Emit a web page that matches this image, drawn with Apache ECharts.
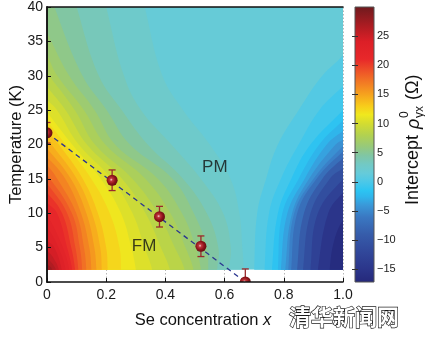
<!DOCTYPE html>
<html>
<head>
<meta charset="utf-8">
<script src="https://cdn.jsdelivr.net/npm/echarts@6/dist/echarts.min.js"></script>
<style>
  html, body { margin: 0; padding: 0; background: #fff; }
  #chart { width: 425px; height: 339px; }
</style>
</head>
<body>
<div id="chart"></div>
<script>
// ---- Intercept map, given as filled contours of rho0_yx (Ohm) over (x, T) ----
// value of the broad paramagnetic plateau
const fieldBaseValue = 1.6;
// lowest measured temperature of the map (K)
const fieldFloor = 1.8;

// regions with rho >= level, bounded by a curve running from the bottom edge to the left/top edge
const highLevels = [2, 3, 4, 5, 6, 7, 8, 9, 10, 11, 12, 13, 14, 15, 16, 17, 18, 19, 20, 21, 22, 23, 24, 25, 26, 27];
const highContours = [
  [[.665,0],[.665,1.8],[.66,5],[.65,10],[.62,15],[.55,20],[.46,25],[.39,30],[.33,40],[.32,42]],
  [[.615,0],[.615,1.8],[.621,5],[.595,10],[.52,15],[.42,20],[.318,25],[.26,30],[.2,40],[.19,42]],
  [[.575,0],[.575,1.8],[.579,5],[.54,10],[.46,15],[.34,20],[.253,25],[.175,30],[.1,40],[.09,42]],
  [[.545,0],[.545,1.8],[.54,5],[.496,10],[.425,15],[.28,20],[.202,25],[.12,30],[.025,40],[.015,42]],
  [[.52,0],[.52,1.8],[.503,5],[.456,10],[.375,15],[.23,20],[.161,25],[.075,30],[0,36.3],[-.02,38]],
  [[.495,0],[.495,1.8],[.468,5],[.417,10],[.333,15],[.197,20],[.125,25],[.035,30],[0,33],[-.02,34.5]],
  [[.465,0],[.465,1.8],[.432,5],[.375,10],[.289,15],[.162,20],[.094,25],[0,30.4],[-.02,31.5]],
  [[.415,0],[.415,1.8],[.385,5],[.333,10],[.254,15],[.135,20],[.063,25],[0,28.4],[-.02,29.5]],
  [[.355,0],[.355,1.8],[.33,5],[.289,10],[.218,15],[.107,20],[.034,25],[0,26.5],[-.02,27.5]],
  [[.3,0],[.3,1.8],[.285,5],[.25,10],[.182,15],[.085,20],[0,24.7],[-.02,25.7]],
  [[.25,0],[.25,1.8],[.245,5],[.212,10],[.15,15],[.063,20],[0,23.4],[-.02,24.3]],
  [[.205,0],[.205,1.8],[.2,5],[.172,10],[.121,15],[.04,20],[0,22],[-.02,22.8]],
  [[.185,0],[.185,1.8],[.18,5],[.152,10],[.101,15],[.015,20],[0,20.7],[-.02,21.4]],
  [[.167,0],[.167,1.8],[.16,5],[.133,10],[.081,15],[0,19.4],[-.02,20]],
  [[.15,0],[.15,1.8],[.143,5],[.115,10],[.062,15],[0,18.2],[-.02,18.8]],
  [[.133,0],[.133,1.8],[.125,5],[.099,10],[.035,15],[0,17],[-.02,17.5]],
  [[.119,0],[.119,1.8],[.111,5],[.084,10],[0,15.6],[-.02,16.2]],
  [[.106,0],[.106,1.8],[.096,5],[.068,10],[0,14.3],[-.02,14.9]],
  [[.095,0],[.095,1.8],[.082,5],[.051,10],[0,13],[-.02,13.6]],
  [[.085,0],[.085,1.8],[.068,5],[.034,10],[0,11.5],[-.02,12.1]],
  [[.075,0],[.075,1.8],[.054,5],[0,9.8],[-.02,10.5]],
  [[.063,0],[.063,1.8],[.039,5],[0,8],[-.02,8.7]],
  [[.05,0],[.05,1.8],[.025,5],[0,6],[-.02,6.6]],
  [[.04,0],[.04,1.8],[.02,3.6],[0,4.5],[-.02,5]],
  [[.03,0],[.03,1.8],[0,3.5],[-.02,4]],
  [[.018,0],[.018,1.8],[0,2.6],[-.02,3]]
];

// regions with rho <= level, bounded by a curve running from the bottom edge to the right edge
const lowLevels = [1, 0, -1, -2, -3, -4, -5, -6, -8, -10, -12, -14, -16];
const lowContours = [
  [[.7,0],[.7,1.8],[.71,10],[.74,15],[.78,20],[.85,25],[.93,30],[1,33],[1.02,34.5]],
  [[.735,0],[.735,1.8],[.75,10],[.79,15],[.85,20],[.92,25],[1,28.5],[1.02,29.5]],
  [[.76,0],[.76,1.8],[.78,10],[.825,15],[.89,20],[1,25],[1.02,25.8]],
  [[.78,0],[.78,1.8],[.795,10],[.85,15],[.92,20],[1,23.5],[1.02,24.2]],
  [[.79,0],[.79,1.8],[.812,10],[.87,15],[.945,20],[1,22],[1.02,22.7]],
  [[.805,0],[.805,1.8],[.828,10],[.885,15],[.975,20],[1,20.7],[1.02,21.2]],
  [[.815,0],[.815,1.8],[.835,10],[.9,15],[1,19.8],[1.02,20.2]],
  [[.825,0],[.825,1.8],[.845,10],[.91,15],[1,19],[1.02,19.4]],
  [[.845,0],[.845,1.8],[.868,10],[.93,15],[1,18],[1.02,18.4]],
  [[.865,0],[.865,1.8],[.89,10],[.955,15],[1,16.5],[1.02,16.8]],
  [[.89,0],[.89,1.8],[.915,10],[1,15],[1.02,15.3]],
  [[.915,0],[.915,1.8],[.95,10],[1,13],[1.02,13.3]],
  [[.955,0],[.955,1.8],[.97,6],[1,9],[1.02,9.3]]
];

// ---- Curie temperature Tc(x) with error bars ----
const tcConcentration = [0, 0.22, 0.38, 0.52, 0.67];
const tcTemperature = [21.7, 14.8, 9.5, 5.2, 0];
const tcError = [1.5, 1.5, 1.5, 1.5, 1.9];

// linear guide to the eye through Tc(x)
const guideConcentration = [0, 0.67];
const guideTemperature = [21.7, 0];

// phase labels
const phaseNames = ['PM', 'FM'];
const phaseConcentration = [0.567, 0.328];
const phaseTemperature = [16.7, 5.2];

// colour bar
const colorbarTicks = [-15, -10, -5, 0, 5, 10, 15, 20, 25];
const colorbarRange = [-17.2, 30];

// colour scale (value, colour)
const colorStops = [
  [-17.2, '#25287a'], [-15, '#2b358a'], [-12, '#31479a'], [-9, '#365caa'],
  [-6, '#3a78c2'], [-4, '#3a98d8'], [-2.5, '#2fb6ec'], [-1.5, '#2cc4f2'],
  [0, '#4cc8e8'], [1.5, '#66cbd9'], [3, '#72c9c4'], [4.5, '#80c6a4'],
  [6, '#96c97c'], [8, '#b2d150'], [10, '#d4dc30'], [11.5, '#f0e81e'],
  [13, '#f8cc1a'], [15, '#f6a21e'], [17, '#f27a24'], [19, '#ee5228'],
  [21, '#e8282a'], [24, '#dc1f27'], [26.5, '#b01c22'], [30, '#6e1a1e']
];

const FONT = '"Liberation Sans", Arial, Helvetica, sans-serif';
const [CB_MIN, CB_MAX] = colorbarRange;

function hexToRgb(h) {
  return [1, 3, 5].map(k => parseInt(h.slice(k, k + 2), 16));
}
function colorAt(v) {
  for (let k = 1; k < colorStops.length; k++) {
    const [v1, c1] = colorStops[k];
    const [v0, c0] = colorStops[k - 1];
    if (v <= v1 || k === colorStops.length - 1) {
      const t = Math.max(0, Math.min(1, (v - v0) / (v1 - v0)));
      const a = hexToRgb(c0), b = hexToRgb(c1);
      return 'rgb(' + a.map((x, n) => Math.round(x + (b[n] - x) * t)).join(',') + ')';
    }
  }
}
// evenly spaced palette for the continuous visualMap
const paletteSize = 95;
const palette = Array.from({ length: paletteSize }, (_, k) =>
  colorAt(CB_MIN + k * (CB_MAX - CB_MIN) / (paletteSize - 1)));

// each filled band is shown with the value midway between its two bounding levels
const fieldData = [[fieldBaseValue, 0, 0]];
highLevels.forEach((L, k) => {
  const band = k < highLevels.length - 1 ? (L + highLevels[k + 1]) / 2 : L + 0.5;
  fieldData.push([band, 1, k]);
});
lowLevels.forEach((L, k) => {
  const band = k < lowLevels.length - 1 ? (L + lowLevels[k + 1]) / 2 : L - 0.6;
  fieldData.push([band, -1, k]);
});

const tcData = tcConcentration.map((x, i) => [x, tcTemperature[i], tcError[i]]);
const guideData = guideConcentration.map((x, i) => [x, guideTemperature[i]]);
const phaseData = phaseNames.map((n, i) => [phaseConcentration[i], phaseTemperature[i], n]);

const ballFill = new echarts.graphic.RadialGradient(0.42, 0.45, 0.62, [
  { offset: 0, color: '#f4d6d6' },
  { offset: 0.22, color: '#c0363c' },
  { offset: 0.6, color: '#8e141a' },
  { offset: 1, color: '#5c0b0f' }
]);
const errColor = '#9a2a2c';

const plot = { left: 47, top: 7, width: 296, height: 275 };

const chart = echarts.init(document.getElementById('chart'), null, { renderer: 'canvas' });
const frameLine = { show: true, lineStyle: { color: '#111', width: 1.5 } };
const hiddenValueAxis = (grid, min, max) => ({ gridIndex: grid, type: 'value', min, max, show: false });

chart.setOption({
  animation: false,
  backgroundColor: '#fff',
  textStyle: { fontFamily: FONT },
  grid: [
    Object.assign({ outerBoundsMode: 'none', containLabel: false }, plot),
    { outerBoundsMode: 'none', containLabel: false, left: 355, top: 7, width: 19, height: 275 },
    // measured part of the map, above the lowest temperature
    { outerBoundsMode: 'none', containLabel: false, left: plot.left, top: plot.top, width: plot.width,
      height: plot.height * (40 - fieldFloor) / 40 }
  ],
  xAxis: [
    { // labels and dotted grid
      gridIndex: 0, type: 'value', min: 0, max: 1, interval: 0.2, position: 'bottom',
      axisLine: { show: false }, axisTick: { show: false },
      axisLabel: { margin: 6, fontSize: 14, color: '#1a1a1a', fontFamily: FONT,
        formatter: v => (v === 0 ? '0' : v.toFixed(1)) },
      splitLine: { show: true, lineStyle: { color: '#b8b8b8', type: [1.5, 2], width: 1 } },
      name: '{t|Se concentration }{i|x}', nameLocation: 'middle', nameGap: 30, nameMoveOverlap: false,
      nameTextStyle: { padding: [0, 0, 0, 16],
        rich: { t: { fontSize: 16.5, color: '#111', fontFamily: FONT },
                i: { fontSize: 16.5, color: '#111', fontStyle: 'italic', fontFamily: FONT } } }
    },
    { // bottom frame with inward ticks
      gridIndex: 0, type: 'value', min: 0, max: 1, interval: 0.2, position: 'bottom', z: 6,
      axisLine: frameLine, axisTick: { show: true, inside: true, length: 4, lineStyle: { color: '#111' } },
      axisLabel: { show: false }, splitLine: { show: false }
    },
    { // top frame
      gridIndex: 0, type: 'value', min: 0, max: 1, position: 'top', z: 6,
      axisLine: frameLine, axisTick: { show: false }, axisLabel: { show: false }, splitLine: { show: false }
    },
    hiddenValueAxis(1, 0, 1),
    hiddenValueAxis(2, 0, 1)
  ],
  yAxis: [
    {
      gridIndex: 0, type: 'value', min: 0, max: 40, interval: 5, position: 'left', z: 6,
      axisLine: frameLine,
      axisTick: { show: true, inside: true, length: 4, lineStyle: { color: '#111' } },
      axisLabel: { margin: 4, fontSize: 14, color: '#1a1a1a', fontFamily: FONT },
      splitLine: { show: false },
      name: 'Temperature (K)', nameLocation: 'middle', nameGap: 22, nameRotate: 90, nameMoveOverlap: false,
      nameTextStyle: { fontSize: 16.5, color: '#111', fontFamily: FONT }
    },
    {
      gridIndex: 0, type: 'value', min: 0, max: 40, position: 'right', z: 6,
      axisLine: frameLine, axisTick: { show: false }, axisLabel: { show: false }, splitLine: { show: false }
    },
    { // colour bar scale
      gridIndex: 1, type: 'value', min: CB_MIN, max: CB_MAX, position: 'right', z: 6,
      axisLine: { show: false },
      axisTick: { show: true, inside: true, length: 3, customValues: colorbarTicks,
        lineStyle: { color: '#333' } },
      axisLabel: { margin: 3, fontSize: 11, color: '#222', fontFamily: FONT,
        customValues: colorbarTicks, formatter: v => String(v).replace('-', '\u2212') },
      splitLine: { show: false }
    },
    {
      gridIndex: 1, type: 'value', min: CB_MIN, max: CB_MAX, position: 'left', z: 6,
      axisLine: { show: false },
      axisTick: { show: true, inside: true, length: 3, customValues: colorbarTicks,
        lineStyle: { color: '#333' } },
      axisLabel: { show: false }, splitLine: { show: false }
    },
    hiddenValueAxis(2, fieldFloor, 40)
  ],
  visualMap: {
    type: 'continuous', show: false, seriesIndex: 0, dimension: 0,
    min: CB_MIN, max: CB_MAX, inRange: { color: palette }
  },
  series: [
    { // filled contours of the intercept
      type: 'custom', xAxisIndex: 4, yAxisIndex: 4, clip: true, silent: true, z: 1,
      dimensions: ['rho', 'side', 'index'],
      encode: { x: -1, y: -1 },
      data: fieldData,
      renderItem: (params, api) => {
        const side = api.value(1), k = api.value(2);
        const fill = api.visual('color');
        if (side === 0) {
          const a = api.coord([0, 40]), b = api.coord([1, fieldFloor]);
          return { type: 'rect', shape: { x: a[0], y: a[1], width: b[0] - a[0], height: b[1] - a[1] },
            style: { fill } };
        }
        const curve = side > 0 ? highContours[k] : lowContours[k];
        const farX = side > 0 ? -0.3 : 1.3;
        const last = curve[curve.length - 1];
        const ring = curve.concat([[farX, last[1]], [farX, -5]]);
        return { type: 'polygon', shape: { points: ring.map(p => api.coord(p)), smooth: 0.4 },
          style: { fill } };
      }
    },
    { // dashed guide line
      type: 'line', xAxisIndex: 0, yAxisIndex: 0, data: guideData, z: 3, silent: true,
      showSymbol: false, symbol: 'none',
      lineStyle: { color: '#2b3590', width: 1.3, type: [5, 4] }
    },
    { // Tc with error bars
      type: 'custom', xAxisIndex: 0, yAxisIndex: 0, clip: true, silent: true, z: 4,
      encode: { x: 0, y: 1 },
      data: tcData,
      renderItem: (params, api) => {
        const x = api.value(0), t = api.value(1), e = api.value(2);
        const c = api.coord([x, t]);
        const hi = api.coord([x, t + e]);
        const lo = api.coord([x, t - e]);
        const cap = 3.5;
        const ls = { stroke: errColor, lineWidth: 1.3 };
        return { type: 'group', children: [
          { type: 'line', shape: { x1: c[0], y1: hi[1], x2: c[0], y2: lo[1] }, style: ls },
          { type: 'line', shape: { x1: c[0] - cap, y1: hi[1], x2: c[0] + cap, y2: hi[1] }, style: ls },
          { type: 'line', shape: { x1: c[0] - cap, y1: lo[1], x2: c[0] + cap, y2: lo[1] }, style: ls },
          { type: 'circle', shape: { cx: c[0], cy: c[1], r: 5.5 }, style: { fill: ballFill } }
        ] };
      }
    },
    { // phase labels
      type: 'scatter', xAxisIndex: 0, yAxisIndex: 0, data: phaseData, z: 5, silent: true,
      symbolSize: 1, itemStyle: { color: 'rgba(0,0,0,0)' },
      label: { show: true, position: 'inside', formatter: p => p.value[2],
        fontSize: 17, color: '#111', fontFamily: FONT }
    },
    { // colour bar
      type: 'custom', xAxisIndex: 3, yAxisIndex: 2, silent: true, z: 2,
      data: [[0, CB_MIN, CB_MAX]],
      renderItem: (params, api) => {
        const a = api.coord([0, api.value(2)]);
        const b = api.coord([1, api.value(1)]);
        const stops = colorStops.map(([v, c]) => ({ offset: (CB_MAX - v) / (CB_MAX - CB_MIN), color: c }))
          .sort((p, q) => p.offset - q.offset);
        return { type: 'rect', shape: { x: a[0], y: a[1], width: b[0] - a[0], height: b[1] - a[1] },
          style: { fill: new echarts.graphic.LinearGradient(0, 0, 0, 1, stops),
                   stroke: '#555', lineWidth: 1 } };
      }
    }
  ],
  graphic: [
    { // colour bar title
      type: 'group', x: 413, y: 137, rotation: Math.PI / 2, silent: true,
      children: [
        { type: 'text', x: -68, y: 0, style: { text: 'Intercept', font: '18px ' + FONT, fill: '#111',
          textAlign: 'left', textVerticalAlign: 'middle' } },
        { type: 'text', x: 8, y: 1, style: { text: '\u03c1', font: 'italic 18px ' + FONT, fill: '#111',
          textAlign: 'left', textVerticalAlign: 'middle' } },
        { type: 'text', x: 19, y: -8, style: { text: '0', font: '12px ' + FONT, fill: '#111',
          textAlign: 'left', textVerticalAlign: 'middle' } },
        { type: 'text', x: 19, y: 7, style: { text: 'yx', font: '12px ' + FONT, fill: '#111',
          textAlign: 'left', textVerticalAlign: 'middle' } },
        { type: 'text', x: 37, y: 0, style: { text: '(\u03a9)', font: '18px ' + FONT, fill: '#111',
          textAlign: 'left', textVerticalAlign: 'middle' } }
      ]
    },
    { // site mark
      type: 'text', x: 344, y: 317, silent: true,
      style: { text: '清华新闻网', font: 'bold 22px "Noto Sans CJK SC", sans-serif',
        fill: '#fff', stroke: '#1a1a1a', lineWidth: 1.3, textAlign: 'center', textVerticalAlign: 'middle' }
    }
  ]
});
</script>
</body>
</html>
